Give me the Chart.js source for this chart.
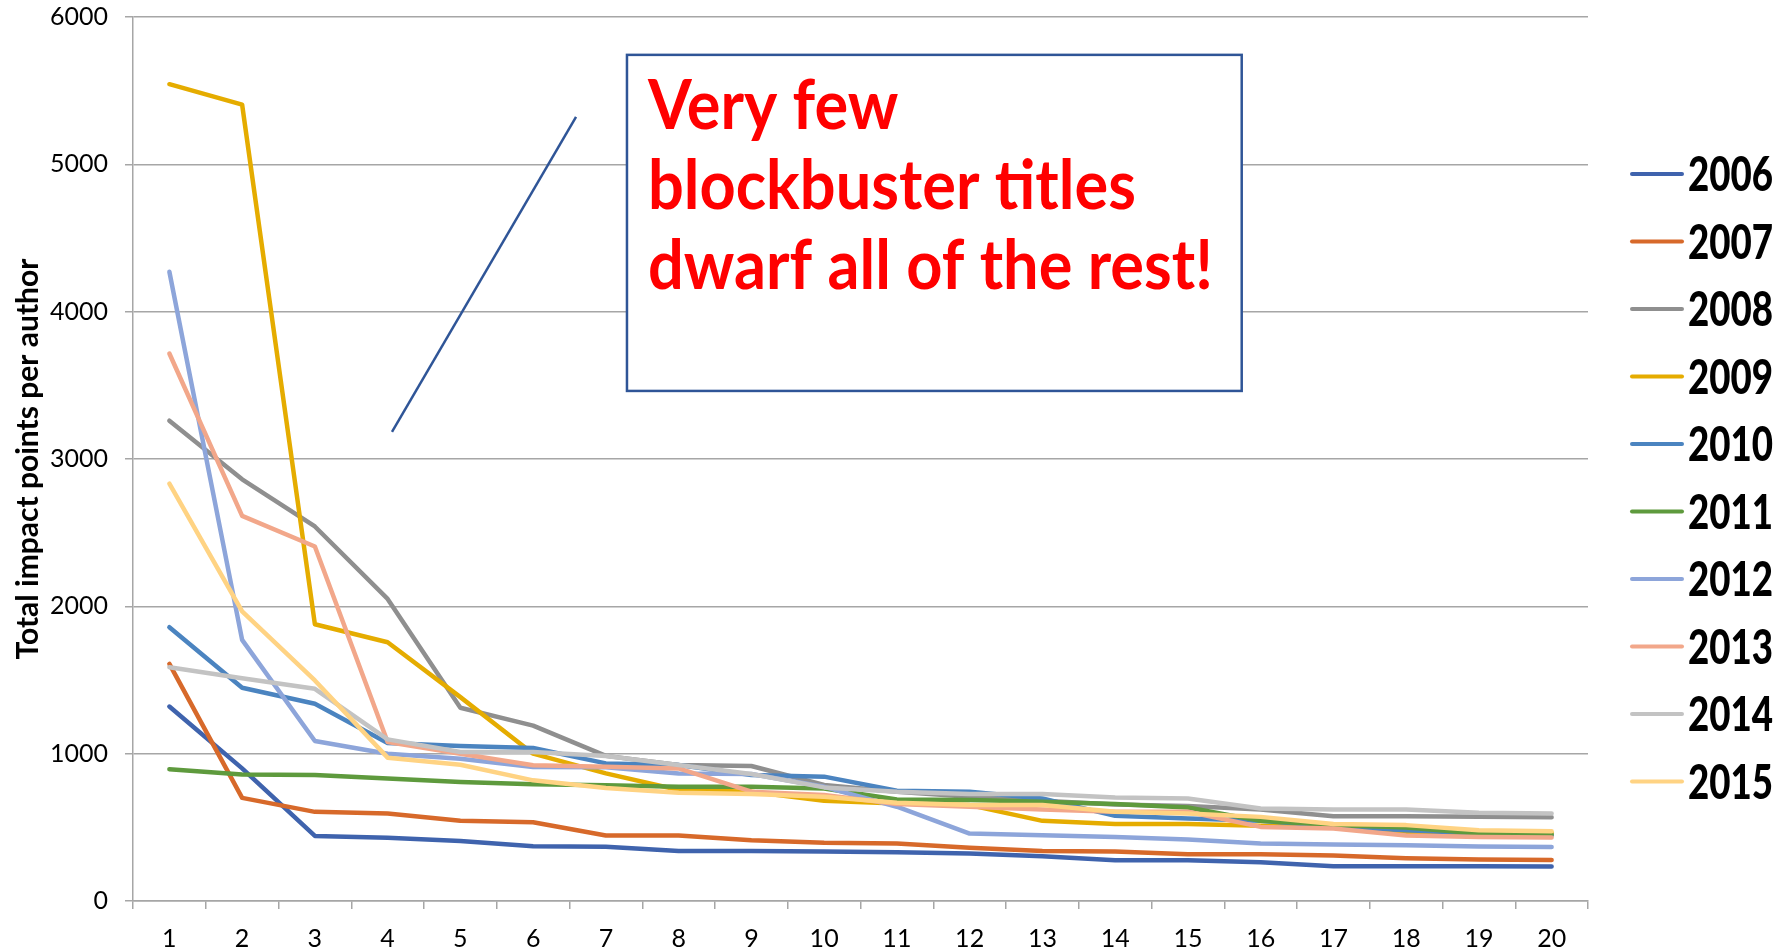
<!DOCTYPE html>
<html>
<head>
<meta charset="utf-8">
<script src="https://cdn.jsdelivr.net/npm/chart.js@4.4.0/dist/chart.umd.min.js"></script>
<style>
  body { margin: 0; background: #fff; }
  #wrap { width: 1782px; height: 950px; }
</style>
</head>
<body>
<div id="wrap"><canvas id="chart" width="1782" height="950"></canvas></div>
<script>
// ranks 1..20
const ranks = ['1','2','3','4','5','6','7','8','9','10','11','12','13','14','15','16','17','18','19','20'];
const years = ['2006','2007','2008','2009','2010','2011','2012','2013','2014','2015'];
const yTicks = [0, 1000, 2000, 3000, 4000, 5000, 6000];

const y2006 = [1320, 900, 442, 429, 408, 372, 368, 340, 340, 336, 331, 322, 304, 277, 277, 263, 236, 236, 236, 234];
const y2007 = [1609, 700, 605, 594, 544, 535, 445, 445, 413, 395, 390, 361, 340, 336, 318, 318, 308, 290, 281, 279];
const y2008 = [3260, 2862, 2542, 2050, 1312, 1190, 985, 923, 916, 787, 742, 708, 680, 655, 644, 621, 576, 576, 571, 569];
const y2009 = [5544, 5405, 1878, 1756, 1384, 1000, 866, 753, 742, 680, 662, 651, 544, 522, 522, 510, 503, 463, 458, 463];
const y2010 = [1858, 1447, 1339, 1072, 1052, 1038, 934, 923, 855, 844, 748, 742, 696, 578, 560, 544, 508, 480, 460, 447];
const y2011 = [894, 858, 856, 831, 808, 792, 786, 776, 776, 764, 689, 685, 674, 658, 635, 544, 515, 499, 458, 451];
const y2012 = [4271, 1772, 1086, 1000, 966, 910, 907, 866, 862, 775, 640, 458, 447, 435, 417, 390, 383, 379, 370, 367];
const y2013 = [3716, 2614, 2406, 1079, 1000, 921, 912, 900, 742, 719, 658, 640, 621, 606, 606, 503, 492, 445, 435, 431];
const y2014 = [1587, 1512, 1440, 1097, 1011, 1011, 984, 923, 862, 771, 742, 726, 726, 703, 696, 628, 621, 621, 599, 594];
const y2015 = [2833, 1966, 1497, 973, 925, 819, 767, 735, 726, 708, 667, 651, 651, 606, 594, 571, 522, 515, 481, 474];

const series = [y2006, y2007, y2008, y2009, y2010, y2011, y2012, y2013, y2014, y2015];
const colors = ['#3f63ad', '#d7692a', '#8f8f8f', '#e5ac00', '#4b84c0', '#5e9a3d', '#8da5da', '#f2a78a', '#c3c3c3', '#ffd383'];

const noteLines = ['Very few', 'blockbuster titles', 'dwarf all of the rest!'];

const FONT = 'Lato, "Open Sans", sans-serif';

// annotation box + connector + legend drawn on top of the plot
const extras = {
  id: 'extras',
  afterDraw(chart) {
    const ctx = chart.ctx;
    const xs = chart.scales.x, ys = chart.scales.y;

    // connector line
    ctx.save();
    ctx.strokeStyle = '#2f5597';
    ctx.lineWidth = 2.5;
    ctx.beginPath();
    ctx.moveTo(xs.getPixelForValue(3.06), ys.getPixelForValue(3184));
    ctx.lineTo(xs.getPixelForValue(5.59), ys.getPixelForValue(5322));
    ctx.stroke();

    // text box
    const bx = xs.getPixelForValue(6.29), bx2 = xs.getPixelForValue(14.74);
    const by = ys.getPixelForValue(5743), by2 = ys.getPixelForValue(3462);
    ctx.fillStyle = '#fff';
    ctx.fillRect(bx, by, bx2 - bx, by2 - by);
    ctx.strokeStyle = '#2f5597';
    ctx.lineWidth = 2.5;
    ctx.strokeRect(bx, by, bx2 - bx, by2 - by);

    ctx.fillStyle = '#ff0000';
    ctx.font = 'bold 68px ' + FONT;
    ctx.textBaseline = 'alphabetic';
    const widest = ctx.measureText(noteLines[2]).width;
    const sx = 565 / widest;
    noteLines.forEach((t, i) => {
      ctx.save();
      ctx.translate(bx + 21, by + 74 + i * 80);
      ctx.scale(sx, 1);
      ctx.fillText(t, 0, 0);
      ctx.restore();
    });

    // legend
    ctx.font = '900 48px ' + FONT;
    ctx.textBaseline = 'middle';
    const lsx = 85 / ctx.measureText('2006').width;
    chart.data.datasets.forEach((ds, i) => {
      const yy = 174 + i * 67.5;
      ctx.strokeStyle = ds.borderColor;
      ctx.lineWidth = 4;
      ctx.lineCap = 'round';
      ctx.beginPath();
      ctx.moveTo(1632, yy);
      ctx.lineTo(1682, yy);
      ctx.stroke();
      ctx.fillStyle = '#000';
      ctx.save();
      ctx.translate(1688, yy + 2);
      ctx.scale(lsx, 1);
      ctx.fillText(ds.label, 0, 0);
      ctx.restore();
    });
    ctx.restore();
  }
};

new Chart(document.getElementById('chart'), {
  type: 'line',
  data: {
    labels: ranks,
    datasets: years.map((yr, i) => ({
      label: yr,
      data: series[i],
      borderColor: colors[i],
      backgroundColor: colors[i],
      borderWidth: 4.5,
      pointRadius: 0,
      tension: 0,
      borderJoinStyle: 'round',
      borderCapStyle: 'round',
      order: years.length - i
    }))
  },
  options: {
    responsive: false,
    animation: false,
    layout: { padding: { left: 0, right: 194, top: 17, bottom: 0 } },
    plugins: {
      legend: { display: false },
      tooltip: { enabled: false }
    },
    scales: {
      x: {
        offset: true,
        grid: {
          offset: true,
          drawOnChartArea: false,
          drawTicks: true,
          tickLength: 8,
          color: '#a6a6a6',
          lineWidth: 1.5
        },
        border: { color: '#a6a6a6', width: 1.5 },
        ticks: {
          color: '#000',
          font: { family: FONT, size: 25 },
          padding: 15,
          maxRotation: 0,
          autoSkip: false
        },
        afterFit: s => { s.height = 49; }
      },
      y: {
        min: 0,
        max: 6000,
        afterBuildTicks: s => { s.ticks = yTicks.map(v => ({ value: v })); },
        grid: {
          color: '#a6a6a6',
          lineWidth: 1.5,
          tickLength: 8
        },
        border: { color: '#a6a6a6', width: 1.5 },
        ticks: {
          color: '#000',
          font: { family: FONT, size: 25 },
          padding: 17,
          callback: v => String(v)
        },
        title: {
          display: true,
          text: 'Total impact points per author',
          color: '#000',
          font: { family: FONT, size: 30, weight: 'bold' },
          padding: { top: 10, bottom: 0 }
        },
        afterFit: s => {
          s.width = 133;
          s.paddingTop = 0;
          s.paddingBottom = 0;
        }
      }
    }
  },
  plugins: [extras]
});
</script>
</body>
</html>
